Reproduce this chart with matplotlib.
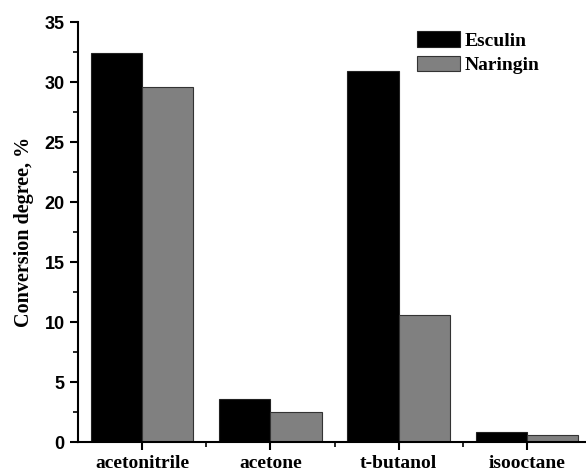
import numpy as np
import matplotlib.pyplot as plt
from matplotlib.ticker import MultipleLocator, FixedLocator

solvents = ['acetonitrile', 'acetone', 't-butanol', 'isooctane']
esculin = [32.4, 3.6, 30.9, 0.85]
naringin = [29.6, 2.5, 10.6, 0.6]

fig = plt.figure(figsize=(5.86, 4.74), dpi=100)
ax = fig.add_axes([0.133, 0.0675, 0.865, 0.886])

x = np.arange(len(solvents))
w = 0.4
ax.bar(x - w / 2, esculin, w, color='black', edgecolor='#222222', linewidth=0.8, label='Esculin')
ax.bar(x + w / 2, naringin, w, color='#808080', edgecolor='#333333', linewidth=0.8, label='Naringin')

ax.set_xlim(-0.5, 3.45)
ax.set_ylim(0, 35)
ax.yaxis.set_major_locator(MultipleLocator(5))
ax.yaxis.set_minor_locator(MultipleLocator(2.5))
ax.set_xticks(x)
ax.xaxis.set_minor_locator(FixedLocator(x[:-1] + 0.5))

for s in ['top', 'right']:
    ax.spines[s].set_visible(False)
for s in ['left', 'bottom']:
    ax.spines[s].set_linewidth(1.5)

ax.tick_params(axis='both', which='major', direction='out', length=6, width=1.5)
ax.tick_params(axis='both', which='minor', direction='out', length=3.5, width=1.2)

ax.set_xticklabels(solvents, fontfamily='Liberation Serif', fontweight='bold', fontsize=14)
for lbl in ax.get_yticklabels():
    lbl.set_fontfamily('Liberation Sans')
    lbl.set_fontweight('bold')
    lbl.set_fontsize(13)

ax.set_ylabel('Conversion degree, %', fontfamily='Liberation Serif', fontweight='bold', fontsize=14.5, labelpad=8)

ax.legend(loc='upper left', bbox_to_anchor=(0.642, 1.01), frameon=False,
          prop={'family': 'Liberation Serif', 'weight': 'bold', 'size': 14},
          handlelength=2.2, handleheight=0.85, handletextpad=0.25, labelspacing=0.3,
          borderpad=0.2)

fig.savefig('out.png', dpi=100)
